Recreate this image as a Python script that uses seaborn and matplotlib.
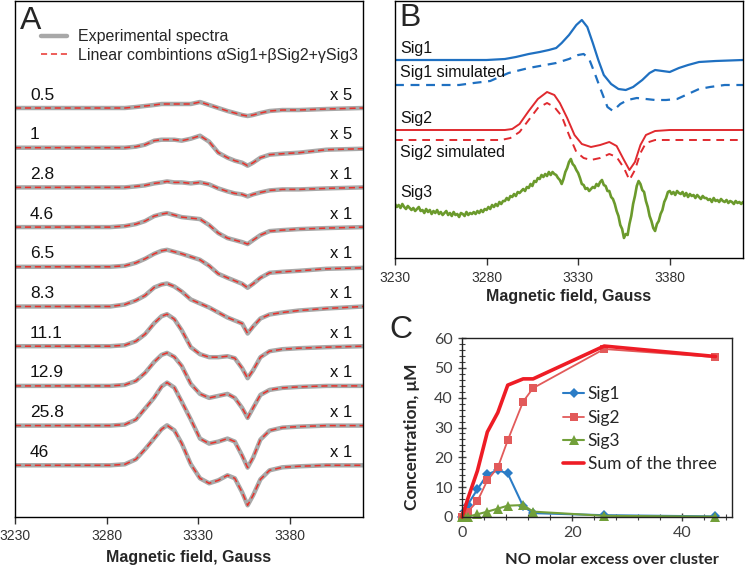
import matplotlib
matplotlib.use('Agg')
import matplotlib.pyplot as plt
import matplotlib.ticker as mticker
from matplotlib.lines import Line2D
import seaborn as sns
import numpy as np

# ---------------- Panel A: spectra vs NO excess ----------------
field_a = [3230, 3270, 3282, 3290, 3296, 3301, 3306, 3310, 3313, 3317, 3321, 3326,
           3331, 3336, 3341, 3346, 3350, 3354, 3357, 3360, 3364, 3369, 3376, 3385, 3400, 3420]
spec_0_5 = [0, 0, 0, 0, 1, 2, 3, 4, 4, 4, 4, 4, 6, 3, 0, -3, -5, -7, -8, -7, -5, -3, -2, -2, -1, 0]
spec_1 = [0, 0, 0, 0, 1, 3, 7, 8, 8, 8, 7, 9, 12, 6, -5, -10, -13, -15, -18, -15, -10, -7, -6, -5, -2, -1]
spec_2_8 = [0, 0, 0, 0, 1, 2, 4, 5, 6, 5, 5, 4, 5, 3, -1, -4, -6, -7, -9, -7, -5, -3, -2, -2, -1, 0]
spec_4_6 = [0, 0, 0, 1, 3, 6, 11, 13, 14, 12, 10, 9, 8, 2, -6, -11, -13, -15, -17, -13, -8, -4, -3, -2, -1, 0]
spec_6_5 = [0, 0, 0, 1, 4, 8, 13, 16, 17, 15, 13, 10, 7, 1, -7, -11, -14, -17, -21, -17, -11, -6, -5, -4, -2, -1]
spec_8_3 = [0, 0, 0, 2, 6, 11, 19, 22, 23, 20, 15, 7, 3, -1, -6, -11, -14, -17, -27, -20, -12, -8, -6, -4, -2, 0]
spec_11_1 = [0, 0, 0, 1, 5, 12, 23, 30, 32, 27, 16, -1, -8, -11, -11, -10, -12, -22, -32, -24, -11, -5, -3, -2, -1, 0]
spec_12_9 = [0, 0, 0, 1, 5, 13, 24, 31, 33, 29, 20, 2, -8, -12, -10, -8, -12, -22, -32, -22, -9, -4, -2, -1, 0, 0]
spec_25_8 = [0, 0, 0, 1, 6, 17, 28, 39, 43, 38, 24, 6, -13, -18, -16, -13, -16, -30, -42, -32, -14, -5, -2, -1, 0, 0]
spec_46 = [0, 0, 0, 1, 6, 16, 27, 36, 40, 35, 22, 1, -13, -18, -15, -10, -13, -27, -40, -30, -14, -5, -2, -1, 0, 0]
excess_labels = ['0.5', '1', '2.8', '4.6', '6.5', '8.3', '11.1', '12.9', '25.8', '46']
gain_labels = ['x 5', 'x 5', 'x 1', 'x 1', 'x 1', 'x 1', 'x 1', 'x 1', 'x 1', 'x 1']

# ---------------- Panel B: individual signals ----------------
sig1_field = [3230, 3280, 3290, 3296, 3303, 3309, 3314, 3318, 3321, 3325, 3329, 3332, 3335, 3338,
              3341, 3344, 3348, 3352, 3356, 3360, 3365, 3369, 3372, 3376, 3380, 3385, 3390, 3396, 3405, 3420]
sig1_amp = [0, 0, 1, 3, 6, 8, 10, 12, 17, 25, 35, 40, 33, 17,
            0, -15, -24, -29, -30, -27, -20, -13, -10, -11, -12, -8, -5, -2, -1, 0]
sig1_sim_field = [3230, 3265, 3273, 3282, 3292, 3303, 3312, 3318, 3325, 3330, 3333, 3336, 3339, 3342,
                  3346, 3349, 3353, 3357, 3362, 3367, 3372, 3378, 3384, 3390, 3396, 3402, 3410, 3420]
sig1_sim_amp = [0, 0, 2, 4, 12, 17, 20, 22, 26, 30, 31, 26, 12, -3,
                -22, -26, -19, -15, -13, -14, -15, -15, -14, -9, -4, -2, 0, 0]
sig2_field = [3230, 3290, 3294, 3298, 3303, 3308, 3313, 3317, 3320, 3324, 3328, 3332,
              3337, 3342, 3347, 3351, 3355, 3358, 3361, 3364, 3367, 3372, 3380, 3420]
sig2_amp = [0, 0, 1, 6, 19, 31, 38, 35, 27, 12, -5, -14,
            -17, -15, -12, -16, -30, -40, -32, -15, -5, -1, 0, 0]
sig2_sim_field = [3230, 3288, 3293, 3298, 3303, 3308, 3313, 3317, 3321, 3325, 3329, 3333,
                  3337, 3342, 3347, 3351, 3355, 3358, 3361, 3364, 3367, 3372, 3420]
sig2_sim_amp = [0, 0, 2, 8, 20, 32, 37, 33, 24, 5, -12, -18,
                -20, -18, -14, -17, -28, -40, -30, -13, -3, 0, 0]
# Sig3 is a noisy trace, read every 1 G
sig3_field = np.arange(3230, 3421, 1)
sig3_amp = [1, -2, 0, -3, 1, -2, -4, -1, -3, -5,
            -3, -6, -4, -2, -6, -5, -8, -4, -7, -5,
            -9, -6, -8, -5, -9, -7, -10, -8, -6, -10,
            -8, -11, -7, -10, -9, -12, -8, -9, -11, -7,
            -10, -8, -9, -7, -9, -6, -8, -5, -7, -4,
            -5, -2, -4, 0, -2, 1, -1, 3, 1, 4,
            4, 7, 5, 9, 8, 11, 9, 13, 12, 14,
            16, 14, 18, 17, 21, 19, 24, 23, 27, 26,
            30, 28, 31, 29, 33, 30, 33, 31, 30, 27,
            25, 21, 26, 33, 37, 43, 46, 41, 39, 35,
            32, 27, 21, 20, 16, 17, 14, 16, 18, 17,
            21, 19, 23, 25, 20, 19, 14, 14, 8, 6,
            1, -6, -11, -20, -24, -33, -29, -30, -19, -11,
            1, 9, 19, 24, 21, 15, 13, 4, -2, -11,
            -16, -23, -26, -19, -16, -9, -5, 3, 7, 13,
            14, 11, 13, 10, 14, 12, 11, 13, 9, 12,
            8, 11, 9, 10, 7, 10, 8, 6, 9, 7,
            7, 5, 6, 3, 7, 4, 5, 3, 6, 4,
            3, 5, 2, 4, 3, 1, 4, 2, 3, 1, 3]
b_names = ['Sig1', 'Sig1 simulated', 'Sig2', 'Sig2 simulated', 'Sig3']

# ---------------- Panel C: concentrations ----------------
no_excess = [0, 0.5, 1, 2.8, 4.6, 6.5, 8.3, 11.1, 12.9, 25.8, 46]
sig1_conc = [0, 2, 4, 9.3, 14.3, 15.7, 14.6, 3.6, 1.3, 0.6, 0.2]
sig2_conc = [0, 0.8, 1.7, 5.3, 12.3, 16.6, 25.7, 38.7, 43.2, 56.3, 53.6]
sig3_conc = [0, 0, 0.1, 0.9, 1.8, 2.8, 3.8, 4.0, 1.8, 0.4, 0.1]
sum_conc = [0, 2.8, 5.8, 15.5, 28.5, 35.0, 44.2, 46.3, 46.3, 57.3, 53.8]

sns.set_theme(style='white')
plt.rcParams['font.family'] = ['Liberation Sans', 'DejaVu Sans']

W, H = 745, 567
fig = plt.figure(figsize=(W / 100, H / 100), dpi=100)


def px_axes(left, top, right, bottom):
    return fig.add_axes([left / W, 1 - bottom / H, (right - left) / W, (bottom - top) / H])


GRAY = '#a8a8a8'
RED_DASH = '#e8322c'
BLUE = '#1f70c1'
RED = '#e02a2f'
GREEN = '#6b9a2c'
TICK_COLOR = '#333333'

# ---- A ----
axA = px_axes(15, 1, 363, 517)
spectra = [spec_0_5, spec_1, spec_2_8, spec_4_6, spec_6_5, spec_8_3,
           spec_11_1, spec_12_9, spec_25_8, spec_46]
step = 39.7
for i, spec in enumerate(spectra):
    base = -step * i
    y = np.array(spec) + base
    sns.lineplot(x=field_a, y=y, ax=axA, color=GRAY, lw=3.2, solid_joinstyle='round')
    sns.lineplot(x=field_a, y=y, ax=axA, color=RED_DASH, lw=1.1)
    axA.lines[-1].set_dashes([4, 2.5])
    axA.text(0.043, base + 13, excess_labels[i], transform=axA.get_yaxis_transform(),
             fontsize=12.5, ha='left', va='center', color='#111111')
    axA.text(0.968, base + 13, gain_labels[i], transform=axA.get_yaxis_transform(),
             fontsize=12, ha='right', va='center', color='#111111')

axA.set_xlim(3230, 3420)
axA.set_ylim(-409, 107)
axA.set_yticks([])
axA.set_xticks([3230, 3280, 3330, 3380])
axA.tick_params(axis='x', direction='out', length=5, width=1, pad=4,
                labelsize=10, colors=TICK_COLOR, bottom=True)
axA.set_xlabel('Magnetic field, Gauss', fontsize=11.5, fontweight='bold', labelpad=5)
axA.set_ylabel('')
handles = [Line2D([], [], color=GRAY, lw=3.2),
           Line2D([], [], color=RED_DASH, lw=1.1, dashes=[4, 2.5])]
axA.legend(handles, ['Experimental spectra',
                     'Linear combintions \u03b1Sig1+\u03b2Sig2+\u03b3Sig3'],
           loc='upper left', bbox_to_anchor=(0.075, 0.945), frameon=False,
           fontsize=11.5, handlelength=1.6, handletextpad=0.7, labelspacing=0.2,
           borderaxespad=0, borderpad=0)

# ---- B ----
axB = px_axes(395, 1, 743, 258)
b_series = [(sig1_field, sig1_amp, -60, BLUE, '-', 1.6),
            (sig1_sim_field, sig1_sim_amp, -85, BLUE, '--', 1.6),
            (sig2_field, sig2_amp, -130, RED, '-', 1.4),
            (sig2_sim_field, sig2_sim_amp, -140, RED, '--', 1.4),
            (sig3_field, sig3_amp, -205, GREEN, '-', 1.9)]
for fx, amp, base, col, ls, lw in b_series:
    sns.lineplot(x=fx, y=np.array(amp) + base, ax=axB, color=col, lw=lw)
    if ls == '--':
        axB.lines[-1].set_dashes([4, 3])
b_label_y = [-48, -72, -118, -152, -193]
for name, ly in zip(b_names, b_label_y):
    axB.text(0.014, ly, name, transform=axB.get_yaxis_transform(), fontsize=11.5,
             ha='left', va='center', color='#111111')
axB.set_xlim(3230, 3420)
axB.set_ylim(-258, -1)
axB.set_yticks([])
axB.set_xticks([3230, 3280, 3330, 3380])
axB.tick_params(axis='x', direction='out', length=5, width=1, pad=4,
                labelsize=10, colors=TICK_COLOR, bottom=True)
axB.set_xlabel('Magnetic field, Gauss', fontsize=11.5, fontweight='bold', labelpad=3)
axB.set_ylabel('')

for ax in (axA, axB):
    for sp in ax.spines.values():
        sp.set_color('black')
        sp.set_linewidth(1.0)

# ---- C ----
axC = px_axes(462, 338, 732, 517)
sns.lineplot(x=no_excess, y=sig1_conc, ax=axC, color='#2b7cc6', lw=1.5, marker='D',
             markersize=5.5, markeredgewidth=0, clip_on=False, label='Sig1')
sns.lineplot(x=no_excess, y=sig2_conc, ax=axC, color='#e25a5a', lw=1.3, marker='s',
             markersize=5.5, markeredgewidth=0, clip_on=False, label='Sig2')
sns.lineplot(x=no_excess, y=sig3_conc, ax=axC, color='#72a03a', lw=1.5, marker='^',
             markersize=6.5, markeredgewidth=0, clip_on=False, label='Sig3')
sns.lineplot(x=no_excess, y=sum_conc, ax=axC, color='#ee1c25', lw=2.6,
             clip_on=False, label='Sum of the three')
axC.set_xlim(0, 49)
axC.set_ylim(0, 60)
axC.xaxis.set_major_locator(mticker.MultipleLocator(20))
axC.xaxis.set_minor_locator(mticker.MultipleLocator(4))
axC.yaxis.set_major_locator(mticker.MultipleLocator(10))
axC.yaxis.set_minor_locator(mticker.MultipleLocator(2))
axC.tick_params(axis='both', which='major', direction='inout', length=6, width=1,
                labelsize=11.5, colors='#404040', bottom=True, left=True,
                labelfontfamily='Lato')
axC.tick_params(axis='both', which='minor', direction='inout', length=4, width=0.8,
                colors='#404040', bottom=True, left=True)
for sp in axC.spines.values():
    sp.set_color('#222222')
    sp.set_linewidth(1.0)
axC.set_xlabel('NO molar excess over cluster', fontsize=11.8, fontweight='bold',
               family='Lato')
axC.xaxis.set_label_coords(0.555, -0.20)
axC.set_ylabel('Concentration, \u03bcM', fontsize=12.5, fontweight='bold', family='Lato')
axC.yaxis.set_label_coords(-0.155, 0.45)
axC.legend(loc='upper left', bbox_to_anchor=(0.375, 0.73), frameon=False,
           prop={'family': 'Lato', 'size': 12.5}, handlelength=1.2,
           handletextpad=0.2, labelspacing=0.42, borderaxespad=0, borderpad=0)

# panel letters
fig.text(20 / W, 1 - 21 / H, 'A', fontsize=23, ha='left', va='center')
fig.text(399 / W, 1 - 18 / H, 'B', fontsize=23, ha='left', va='center')
fig.text(389 / W, 1 - 330 / H, 'C', fontsize=23, ha='left', va='center')

fig.savefig('out.png', dpi=100)
